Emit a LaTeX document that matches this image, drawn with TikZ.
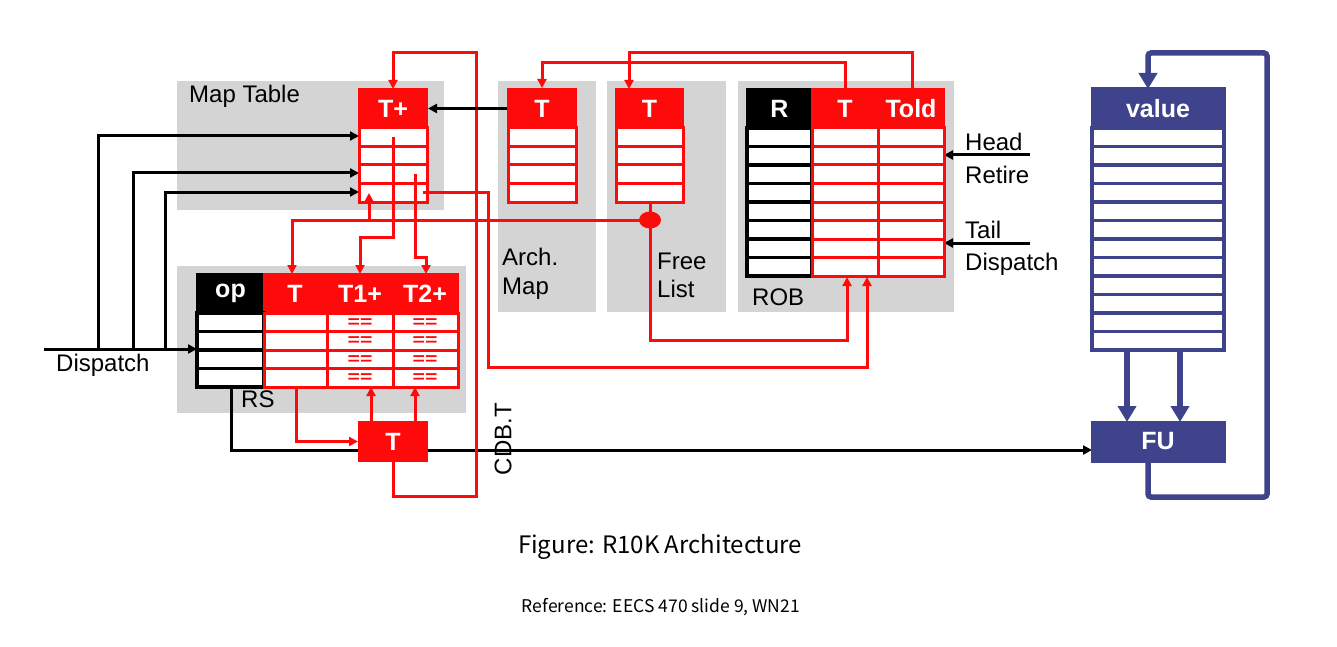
\documentclass[tikz,border=0pt]{standalone}
\usepackage{fontspec}
\setmainfont{Liberation Sans}
\newfontfamily\capfont{Noto Sans CJK SC}
\usetikzlibrary{arrows.meta}
\definecolor{rd}{RGB}{255,10,10}
\definecolor{gp}{RGB}{212,212,212}
\definecolor{bl}{RGB}{63,67,140}
\tikzset{
  rl/.style={draw=rd, line width=3pt},
  rarr/.style={rl, -{Triangle[length=9pt,width=9pt]}},
  bk/.style={draw=black, line width=3pt},
  barr/.style={bk, -{Triangle[length=9pt,width=9pt]}},
  bline/.style={draw=bl, line width=5.5pt},
  blarr/.style={bline, -{Triangle[length=16pt,width=18pt]}},
  lbl/.style={font=\fontsize{24}{28}\selectfont, anchor=base west, inner sep=0pt},
  hdrbox/.style={draw=#1, fill=#1, line width=2pt, inner sep=0pt, minimum height=39pt,
    text=white, font=\bfseries\fontsize{25}{28}\selectfont},
  hdrtext/.style={text=white, inner sep=0pt, font=\bfseries\fontsize{25}{28}\selectfont},
  eqtext/.style={text=rd, inner sep=0pt, xscale=1.25, font=\bfseries\fontsize{17}{17}\selectfont},
}
\newcommand\mytblrows[6]{% x1, x2, y0, n, color, width
  \foreach \i in {1,...,#4}{\draw[draw=#5, line width=#6, fill=white] (#1,{#3+18.5*(\i-1)}) rectangle (#2,{#3+18.5*\i});}}
\begin{document}
\begin{tikzpicture}[x=1pt,y=-1pt]
\fill[white] (0,0) rectangle (1337,647);
\useasboundingbox (0,0) rectangle (1337,647);
% ---------- panels ----------
\fill[gp] (177,81) rectangle (444,210);
\fill[gp] (177,266) rectangle (466,413);
\fill[gp] (498,81) rectangle (596,312);
\fill[gp] (607,81) rectangle (726,312);
\fill[gp] (738,81) rectangle (954,312);
% ---------- panel labels ----------
\node[lbl] (lmt) at (189,103) {Map Table};
\node[lbl] (lrs) at (241,407) {RS};
\node[lbl] (larch) at (502,265) {Arch.};
\node[lbl] (larch2) at (502,294) {Map};
\node[lbl] (lfree) at (657,269) {Free};
\node[lbl] (lfree2) at (657,297) {List};
\node[lbl] (lrob) at (752,305) {ROB};
\node[lbl] (lhead) at (965,151) {Head};
\node[lbl] (lret) at (965,183) {Retire};
\node[lbl] (ltail) at (965,238) {Tail};
\node[lbl] (ldisp) at (965,270) {Dispatch};
\node[lbl] (ldisp2) at (56,371) {Dispatch};
\node[rotate=90, inner sep=0pt, font=\fontsize{24}{28}\selectfont] (cdb) at (503,439) {CDB.T};
% ---------- coordinates ----------
\coordinate (dispIn) at (44,349);
\coordinate (d1) at (98,349);
\coordinate (d2) at (133,349);
\coordinate (d3) at (165,349);
\coordinate (rsIn) at (197,349);
\coordinate (mtIn1) at (359,136);
\coordinate (mtIn2) at (359,173);
\coordinate (mtIn3) at (359,192);
\coordinate (opBot) at (231,387);
\coordinate (fuIn) at (1092,450);
\coordinate (headS) at (1030,155);
\coordinate (headE) at (944,155);
\coordinate (tailS) at (1030,243);
\coordinate (tailE) at (944,243);
% ---------- black connectors ----------
\draw[barr] (dispIn) -- (rsIn);
\draw[barr] (d1) |- (mtIn1);
\draw[barr] (d2) |- (mtIn2);
\draw[barr] (d3) |- (mtIn3);
\draw[barr] (opBot) |- (fuIn);
\draw[barr] (headS) -- (headE);
\draw[barr] (tailS) -- (tailE);
% ---------- Map table ----------
\node[hdrbox=rd, minimum width=68pt] (mtT) at (393,108.5) {T+};
\mytblrows{359}{427}{128}{4}{rd}{3pt}
% ---------- Arch map ----------
\node[hdrbox=rd, minimum width=68pt] (amT) at (542,108.5) {T};
\mytblrows{508}{576}{128}{4}{rd}{3pt}
% ---------- Free list ----------
\node[hdrbox=rd, minimum width=67pt] (flT) at (649.5,108.5) {T};
\mytblrows{616}{683}{128}{4}{rd}{3pt}
% ---------- ROB ----------
\node[hdrbox=black, minimum width=65pt] (robR) at (779.5,108.5) {R};
\node[hdrbox=rd, minimum width=132pt] (robH) at (878,108.5) {};
\node[hdrtext] (robT) at (845,108.5) {T};
\node[hdrtext] (robTold) at (911,108.5) {Told};
\mytblrows{747}{812}{128}{8}{black}{3.5pt}
\mytblrows{812}{878}{128}{8}{rd}{3pt}
\mytblrows{878}{944}{128}{8}{rd}{3pt}
% ---------- RS ----------
\node[hdrbox=black, minimum width=67pt] (rsOp) at (230.5,293.5) {op};
\node[hdrbox=rd, minimum width=194pt] (rsH) at (361,293.5) {};
\node[hdrtext] (rsT) at (295,293.5) {T};
\node[hdrtext] (rsT1) at (360,293.5) {T1+};
\node[hdrtext] (rsT2) at (425,293.5) {T2+};
\mytblrows{197}{264}{313}{4}{black}{3.5pt}
\mytblrows{264}{327}{313}{4}{rd}{3pt}
\mytblrows{327}{393}{313}{4}{rd}{3pt}
\mytblrows{393}{458}{313}{4}{rd}{3pt}
\foreach \i in {1,...,4}{
  \node[eqtext] (eqa\i) at (360,{313+18.5*\i-8.5}) {==};
  \node[eqtext] (eqb\i) at (425,{313+18.5*\i-8.5}) {==};
}
% ---------- CDB T box ----------
\node[hdrbox=rd, minimum width=68pt] (cdbT) at (393,441.5) {T};
% ---------- value RF and FU ----------
\node[hdrbox=bl, minimum width=132pt, line width=3pt] (vH) at (1158,108.5) {value};
\mytblrows{1092}{1224}{128}{12}{bl}{3.5pt}
\node[hdrbox=bl, minimum width=132pt, line width=3pt] (fu) at (1158,441.5) {FU};
% ---------- red connectors ----------
\coordinate (flBot) at (650,202);
\coordinate (robIn1) at (847,277);
\coordinate (robIn2) at (867,277);
\coordinate (rsTin) at (292,274);
\coordinate (rsT1in) at (360,274);
\coordinate (rsT2in) at (426,274);
\coordinate (mtIn4) at (369,193);
\coordinate (mtS1) at (393,137);
\coordinate (mtS2) at (415,174);
\coordinate (mtS3) at (423,192);
\coordinate (rsTbot) at (296,387);
\coordinate (cdbU1) at (371,422);
\coordinate (cdbU2) at (415,422);
\coordinate (rsB1) at (371,387);
\coordinate (rsB2) at (415,387);
\coordinate (robTtop) at (845,89);
\coordinate (robToldtop) at (912,89);
\coordinate (flIn) at (629,89);
\coordinate (mtTop) at (393,89);
\draw[rarr] (flBot) -- (650,340) -| (robIn1);
\draw[rarr] (650,220) -| (rsTin);
\draw[rarr] (369,220) -- (mtIn4);
\draw[rarr] (mtS1) |- (360,237) -- (rsT1in);
\draw[rarr] (mtS2) |- (426,257) -- (rsT2in);
\draw[rarr] (mtS3) -| (488,367) -| (robIn2);
\draw[rarr] (cdbT.south) -- (393,496) -| (476,53) -| (mtTop);
\draw[rarr] (rsTbot) |- (cdbT.west);
\draw[rarr] (cdbU1) -- (rsB1);
\draw[rarr] (cdbU2) -- (rsB2);
\draw[rarr] (robTtop) -- (845,63) -| (amT.north);
\draw[rarr] (robToldtop) -- (912,53) -| (flIn);
\fill[rd] (650,220) ellipse [x radius=11, y radius=8.5];
\node[inner sep=0pt] (dot) at (650,220) {};
% black arch -> map
\draw[barr] (amT.west) -- (mtT.east);
% ---------- blue connectors ----------
\draw[blarr] (1127,350) -- (1127,422);
\draw[blarr] (1180,350) -- (1180,422);
\draw[blarr, rounded corners=3pt] (1148,461) -- (1148,497) -| (1267,53) -| (1148,89);
% ---------- caption ----------
\node[anchor=base, inner sep=0pt, font=\capfont\fontsize{24}{28}\selectfont] (cap) at (660,553) {Figure: R10K Architecture};
\node[anchor=base, inner sep=0pt, font=\capfont\fontsize{17.5}{21}\selectfont] (ref) at (661,612) {Reference: EECS 470 slide 9, WN21};
\end{tikzpicture}
\end{document}
